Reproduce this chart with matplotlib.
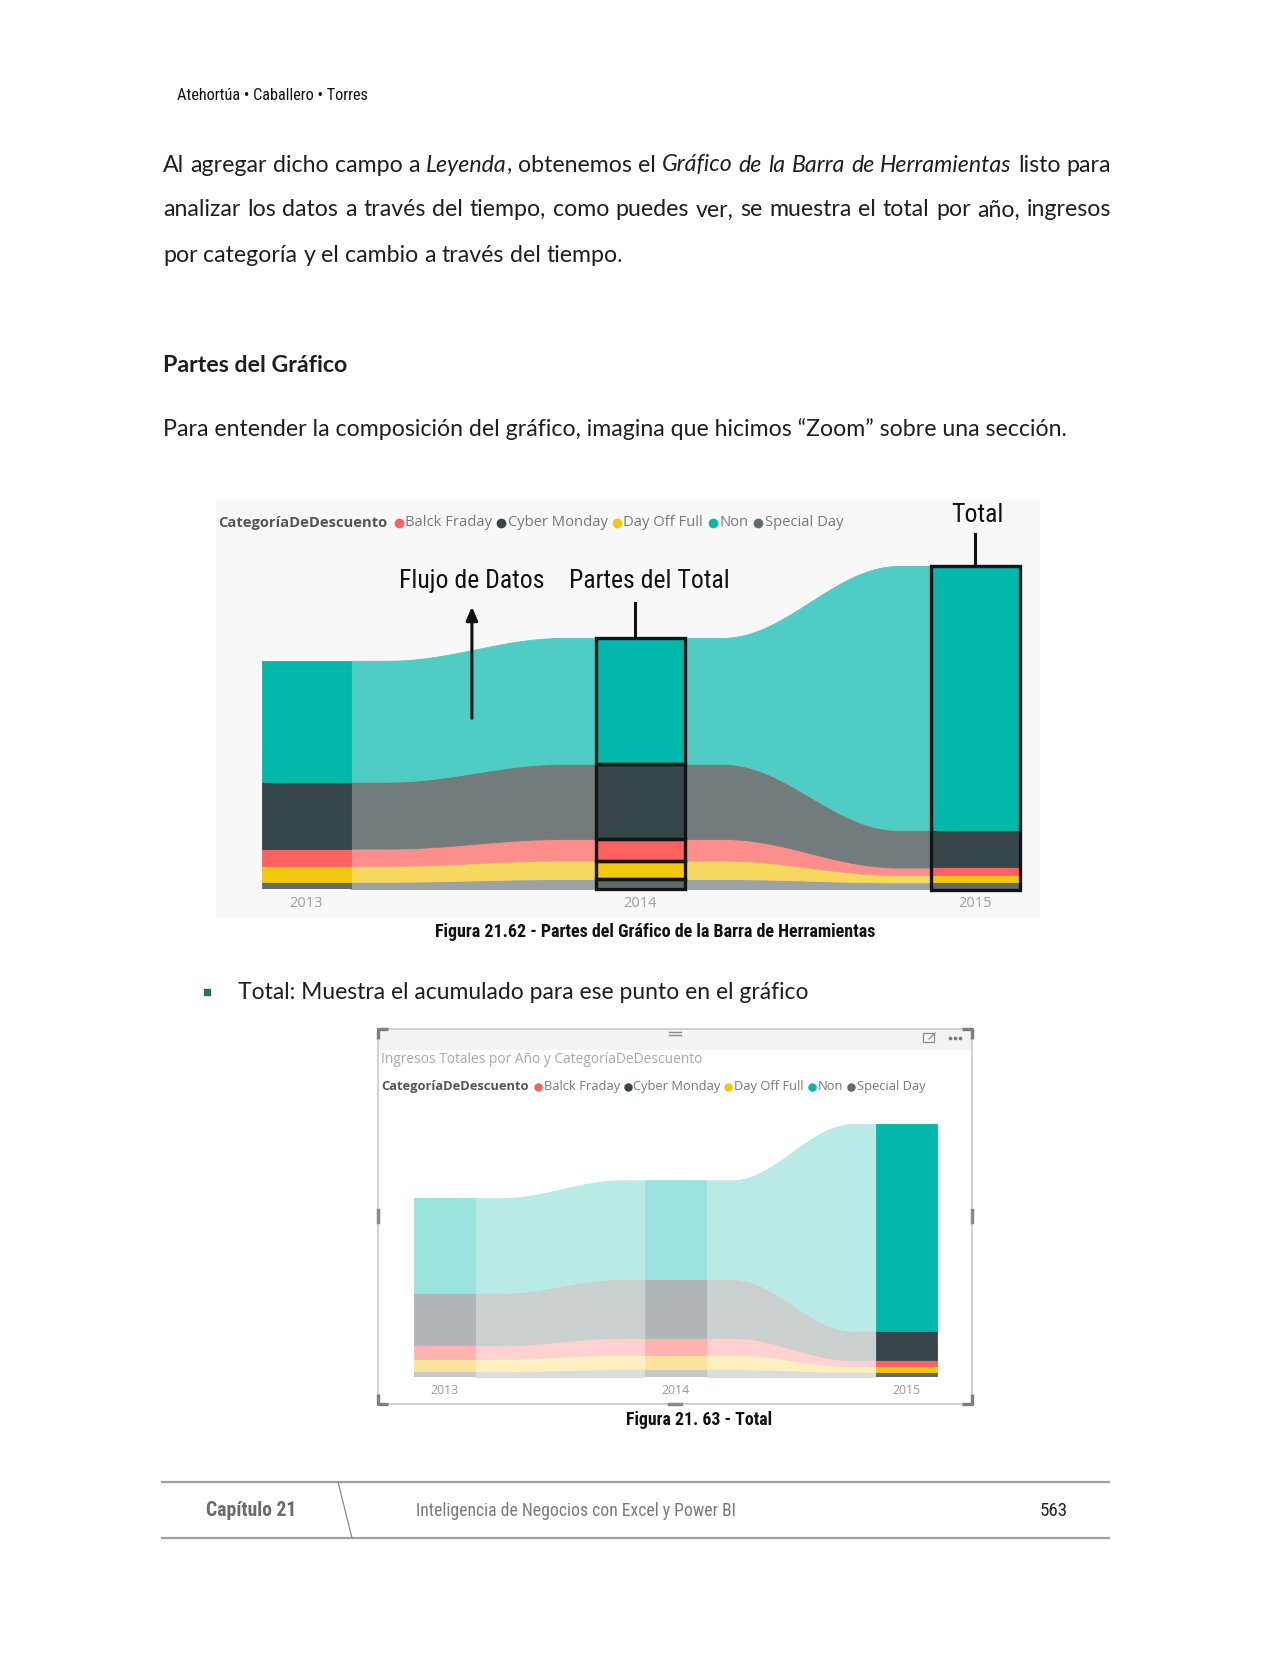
import numpy as np
import matplotlib
matplotlib.use("Agg")
import matplotlib.pyplot as plt
from matplotlib.patches import Rectangle
from matplotlib import font_manager

# ---------------- data ----------------
years = ["2013", "2014", "2015"]
# stacking order, bottom -> top
stack_categories = ["Special Day", "Day Off Full", "Balck Fraday", "Cyber Monday", "Non"]
special_day = [22, 30, 20]
day_off_full = [48, 56, 22]
balck_fraday = [52, 65, 23]
cyber_monday = [202, 227, 113]
non = [365, 380, 797]
legend_categories = ["Balck Fraday", "Cyber Monday", "Day Off Full", "Non", "Special Day"]
legend_title = "CategoríaDeDescuento"

bar_colors = {"Special Day": "#5F6B6D", "Day Off Full": "#F2C80F", "Balck Fraday": "#FD625E",
              "Cyber Monday": "#374649", "Non": "#01B8AA"}
flow_colors = {"Special Day": "#9BA2A3", "Day Off Full": "#F6D85E", "Balck Fraday": "#FC8E8B",
               "Cyber Monday": "#737C7C", "Non": "#4FCDC4"}
faded_bar = {"Special Day": "#C3C8C9", "Day Off Full": "#FAE49C", "Balck Fraday": "#FEB3B1",
             "Cyber Monday": "#B0B6B7", "Non": "#9AE3DD"}
faded_flow = {"Special Day": "#DADDDD", "Day Off Full": "#FCEFC0", "Balck Fraday": "#FFD1D0",
              "Cyber Monday": "#CACFCF", "Non": "#B9EAE6"}

values = {"Special Day": special_day, "Day Off Full": day_off_full, "Balck Fraday": balck_fraday,
          "Cyber Monday": cyber_monday, "Non": non}

# ---------------- page ----------------
W, H = 1280, 1656
fig = plt.figure(figsize=(12.8, 16.56), dpi=100)
fig.patch.set_facecolor("white")
page = fig.add_axes([0, 0, 1, 1])
page.set_xlim(0, W)
page.set_ylim(H, 0)
page.axis("off")
renderer = fig.canvas.get_renderer()

installed = {f.name for f in font_manager.fontManager.ttflist}
narrow_candidates = ["Roboto Condensed", "Open Sans Condensed", "Liberation Sans Narrow",
                     "Noto Sans Condensed", "DejaVu Sans Condensed"]
NARROW = [f for f in narrow_candidates if f in installed] + ["DejaVu Sans"]
BODY = ["Lato", "DejaVu Sans"]
UI = ["Open Sans", "DejaVu Sans"]


def width_of(t):
    return t.get_window_extent(renderer).width


def fit_size(s, target_w, family, **kw):
    t = page.text(0, 0, s, fontsize=20, family=family, **kw)
    w = width_of(t)
    t.remove()
    return 20 * target_w / w


def fit_text(x, y, s, target_w, ha="left", va="center", family=BODY, **kw):
    size = fit_size(s, target_w, family, **{k: v for k, v in kw.items() if k in ("fontweight", "fontstyle", "fontstretch")})
    return page.text(x, y, s, fontsize=size, ha=ha, va=va, family=family, **kw), size


def tokenize(segs):
    words = [[]]
    for text, it in segs:
        parts = text.split(" ")
        for k, p in enumerate(parts):
            if k > 0:
                words.append([])
            if p:
                words[-1].append((p, it))
    return [w for w in words if w]


def draw_line(segs, x0, x1, y, size, justify, color="#1E1E1E"):
    words = tokenize(segs)
    meas = []
    for w in words:
        pieces = []
        for p, it in w:
            t = page.text(0, 0, p, fontsize=size, family=BODY,
                          fontstyle="italic" if it else "normal")
            pieces.append((p, it, width_of(t)))
            t.remove()
        meas.append(pieces)
    tsp = page.text(0, 0, "a a", fontsize=size, family=BODY)
    tnp = page.text(0, 0, "aa", fontsize=size, family=BODY)
    space = width_of(tsp) - width_of(tnp)
    tsp.remove(); tnp.remove()
    total = sum(sum(pc[2] for pc in m) for m in meas)
    gap = (x1 - x0 - total) / (len(meas) - 1) if justify else space
    x = x0
    for m in meas:
        for p, it, wpx in m:
            page.text(x, y, p, fontsize=size, family=BODY, va="center", color=color,
                      fontstyle="italic" if it else "normal")
            x += wpx
        x += gap


# header
fit_text(177, 95, "Atehortúa • Caballero • Torres", 191, family=NARROW, fontstretch="condensed", color="#111111")

# body paragraph
_, body_size = fit_text(163, 429, "Para entender la composición del gráfico, imagina que hicimos “Zoom” sobre una sección.",
                        906, family=BODY, color="#1E1E1E")
draw_line([("Al agregar dicho campo a ", False), ("Leyenda", True), (", obtenemos el ", False),
           ("Gráfico de la Barra de Herramientas", True), (" listo para", False)], 163, 1111, 165, body_size, True)
draw_line([("analizar los datos a través del tiempo, como puedes ver, se muestra el total por año, ingresos", False)],
          163, 1111, 210, body_size, True)
draw_line([("por categoría y el cambio a través del tiempo.", False)], 163, 1111, 256, body_size, False)
fit_text(163, 365, "Partes del Gráfico", 184, family=BODY, fontweight="bold", color="#1E1E1E")


def draw_legend(x0, y, target_w, title_color="#555555", item_color="#777777"):
    base = 10.0
    em = base * 100 / 72
    tt = page.text(0, 0, legend_title, fontsize=base, family=UI, fontweight="bold")
    wt = width_of(tt); tt.remove()
    wn = []
    for n in legend_categories:
        t = page.text(0, 0, n, fontsize=base, family=UI)
        wn.append(width_of(t)); t.remove()
    dot_w, g_title, g_dot, g_item = 0.66 * em, 0.45 * em, 0.1 * em, 0.33 * em
    total = wt + g_title + sum(dot_w + g_dot + w for w in wn) + g_item * (len(wn) - 1)
    f = target_w / total
    size = base * f
    x = x0
    page.text(x, y, legend_title, fontsize=size, family=UI, fontweight="bold", color=title_color, va="center")
    x += (wt + g_title) * f
    for n, w in zip(legend_categories, wn):
        page.plot([x + dot_w * f / 2], [y + 0.5], marker="o", ms=dot_w * f * 1.0 * 72 / 100,
                  color=bar_colors[n], mec="none")
        x += (dot_w + g_dot) * f
        page.text(x, y, n, fontsize=size, family=UI, color=item_color, va="center")
        x += (w + g_item) * f


def ribbon(ax, bar_col, flow_col, w):
    n = len(years)
    xs_bar = np.arange(n)
    stacks = np.array([values[c] for c in stack_categories], dtype=float)
    cum = np.vstack([np.zeros(n), np.cumsum(stacks, axis=0)])
    for i in range(n - 1):
        xs = np.linspace(i + w / 2, i + 1 - w / 2, 300)
        t = (xs - xs[0]) / (xs[-1] - xs[0])
        tt = np.clip((t - 0.15) / 0.72, 0, 1)
        s = (1 - np.cos(np.pi * tt)) / 2
        for k, c in enumerate(stack_categories):
            lo = cum[k, i] + (cum[k, i + 1] - cum[k, i]) * s
            hi = cum[k + 1, i] + (cum[k + 1, i + 1] - cum[k + 1, i]) * s
            col = flow_col(c, i)
            ax.fill_between(xs, lo, hi, color=col, lw=0.6, edgecolor=col)
    for k, c in enumerate(stack_categories):
        for j in range(n):
            ax.bar(xs_bar[j], stacks[k, j], bottom=cum[k, j], width=w, color=bar_col(c, j),
                   lw=0.6, edgecolor=bar_col(c, j))
    return cum


def add_ax(x0, y0, x1, y1):
    return fig.add_axes([x0 / W, 1 - y1 / H, (x1 - x0) / W, (y1 - y0) / H])


# ---------------- Figure 1 ----------------
page.add_patch(Rectangle((216, 502), 824, 417, facecolor="#F8F8F8", edgecolor="none"))
draw_legend(218, 523, 625)
c0, sp = 306.0, 334.5
ppu = 323.0 / 975.0
ax1 = add_ax(216, 502, 1040, 890)
ax1.patch.set_alpha(0)
ax1.set_xlim((216 - c0) / sp, (1040 - c0) / sp)
ax1.set_ylim(0, (890 - 502) / ppu)
w1 = 89 / sp
cum1 = ribbon(ax1, lambda c, j: bar_colors[c], lambda c, i: flow_colors[c], w1)
for s in ax1.spines.values():
    s.set_visible(False)
ax1.set_yticks([])
ax1.set_xticks(range(len(years)))
ax1.set_xticklabels(years, family=UI, color="#9E9E9E", fontsize=10.5)
ax1.tick_params(axis="x", length=0, pad=4.5)
for k in range(len(stack_categories)):
    ax1.add_patch(Rectangle((1 - w1 / 2, cum1[k, 1]), w1, cum1[k + 1, 1] - cum1[k, 1], fill=False,
                            edgecolor="#141414", lw=2.4, clip_on=False, zorder=5))
ax1.add_patch(Rectangle((2 - w1 / 2, -3), w1, cum1[-1, 2] + 3, fill=False, edgecolor="#141414",
                        lw=2.4, clip_on=False, zorder=5))
ann_size = fit_size("Flujo de Datos", 145, NARROW, fontstretch="condensed")
tot = cum1[-1]
ax1.annotate("", xy=(0.496, (890 - 605) / ppu), xytext=(0.496, (890 - 722) / ppu),
             arrowprops=dict(arrowstyle="-|>,head_width=0.35,head_length=0.8", color="#111111", lw=2.2),
             annotation_clip=False)
ax1.text(0.496, (890 - 581) / ppu, "Flujo de Datos", fontsize=ann_size, family=NARROW, fontstretch="condensed",
         ha="center", va="center", color="#111111")
ax1.text(1.028, (890 - 581) / ppu, "Partes del Total", fontsize=ann_size, family=NARROW, fontstretch="condensed",
         ha="center", va="center", color="#111111")
ax1.plot([0.985, 0.985], [(890 - 604) / ppu, tot[1]], color="#111111", lw=2.2, clip_on=False)
ax1.text(2.006, (890 - 515) / ppu, "Total", fontsize=ann_size, family=NARROW, fontstretch="condensed",
         ha="center", va="center", color="#111111")
ax1.plot([2.0, 2.0], [(890 - 535) / ppu, tot[2]], color="#111111", lw=2.2, clip_on=False)

fit_text(655, 932, "Figura 21.62 - Partes del Gráfico de la Barra de Herramientas", 441, ha="center",
         family=NARROW, fontstretch="condensed", fontweight="bold", color="#111111")

# bullet
page.plot([207], [993], marker="s", ms=5, color="#2E6E60")
fit_text(238, 993, "Total: Muestra el acumulado para ese punto en el gráfico", 571, family=BODY, color="#1E1E1E")

# ---------------- Figure 2 ----------------
page.add_patch(Rectangle((378, 1030), 594, 21, facecolor="#F3F3F3", edgecolor="none"))
page.add_patch(Rectangle((378, 1030), 594, 375, facecolor="none", edgecolor="#C9C9C9", lw=1.2))
for (cx, cy, dx, dy) in [(378, 1030, 1, 1), (972, 1030, -1, 1), (378, 1405, 1, -1), (972, 1405, -1, -1)]:
    page.plot([cx + dx * 10, cx, cx], [cy, cy, cy + dy * 10], color="#7E7E7E", lw=2.4, solid_capstyle="butt")
page.plot([669, 681], [1033, 1033], color="#8A8A8A", lw=1.0)
page.plot([669, 681], [1036, 1036], color="#8A8A8A", lw=1.0)
page.plot([669, 681], [1405, 1405], color="#8A8A8A", lw=2.5)
page.plot([378, 378], [1211, 1223], color="#8A8A8A", lw=2.5)
page.plot([972, 972], [1211, 1223], color="#8A8A8A", lw=2.5)
page.add_patch(Rectangle((923, 1034), 11, 9, facecolor="none", edgecolor="#8A8A8A", lw=0.9))
page.plot([929, 935], [1040, 1034], color="#8A8A8A", lw=0.9)
for dxx in (950, 955, 960):
    page.plot([dxx], [1039], marker="o", ms=1.6, color="#777777")
fit_text(381, 1060, "Ingresos Totales por Año y CategoríaDeDescuento", 319, family=UI, color="#A8A8A8")
draw_legend(381, 1087, 544)

c0b, spb = 444.0, 231.0
ppu2 = 253.0 / 975.0
ax2 = add_ax(381, 1110, 968, 1378)
ax2.patch.set_alpha(0)
ax2.set_xlim((381 - c0b) / spb, (968 - c0b) / spb)
ax2.set_ylim(0, (1378 - 1110) / ppu2)
w2 = 61 / spb
ribbon(ax2, lambda c, j: bar_colors[c] if j == 2 else faded_bar[c], lambda c, i: faded_flow[c], w2)
for s in ax2.spines.values():
    s.set_visible(False)
ax2.set_yticks([])
ax2.set_xticks(range(len(years)))
ax2.set_xticklabels(years, family=UI, color="#9A9A9A", fontsize=8.8)
ax2.tick_params(axis="x", length=0, pad=4)

fit_text(699, 1420, "Figura 21. 63 - Total", 145, ha="center", family=NARROW, fontstretch="condensed",
         fontweight="bold", color="#111111")

# ---------------- footer ----------------
page.plot([162, 1109], [1483, 1483], color="#A0A0A0", lw=1.6)
page.plot([162, 1109], [1539, 1539], color="#A0A0A0", lw=1.6)
page.plot([338, 352], [1483, 1539], color="#8A8A8A", lw=0.9)
fit_text(251, 1511, "Capítulo 21", 90, ha="center", family=NARROW, fontstretch="condensed",
         fontweight="bold", color="#6A6A6A")
fit_text(416, 1511, "Inteligencia de Negocios con Excel y Power BI", 319, family=NARROW,
         fontstretch="condensed", color="#7A7A7A")
fit_text(1054, 1511, "563", 28, ha="center", family=NARROW, fontstretch="condensed", color="#222222")

fig.savefig("out.png", dpi=100, facecolor="white")
